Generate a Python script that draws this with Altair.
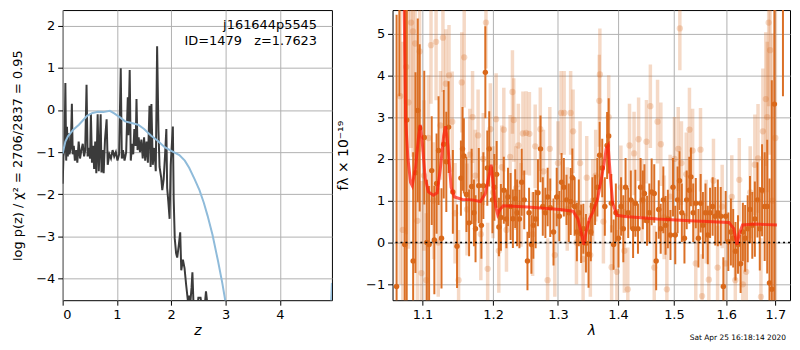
import altair as alt
import pandas as pd

# ---------------- left panel: p(z) ----------------
pz_z = [0.000, 0.015, 0.035, 0.050, 0.065, 0.080, 0.095, 0.110, 0.125, 0.150,
        0.170, 0.185, 0.205, 0.225, 0.250, 0.270, 0.295, 0.320, 0.345, 0.370,
        0.395, 0.415, 0.440, 0.460, 0.480, 0.505, 0.520, 0.540, 0.560, 0.580,
        0.600, 0.620, 0.645, 0.665, 0.685, 0.700, 0.715, 0.735, 0.755, 0.780,
        0.810, 0.830, 0.860, 0.890, 0.920, 0.950, 0.980, 1.010, 1.040, 1.070,
        1.090, 1.110, 1.140, 1.170, 1.200, 1.210, 1.235, 1.255, 1.280, 1.300,
        1.320, 1.345, 1.360, 1.380, 1.400, 1.425, 1.450, 1.475, 1.500, 1.520,
        1.545, 1.570, 1.600, 1.620, 1.635, 1.660, 1.690, 1.715, 1.740, 1.765,
        1.785, 1.815, 1.835, 1.860, 1.885, 1.910, 1.925, 1.945, 1.970, 1.990,
        2.030, 2.045, 2.065, 2.090, 2.110, 2.140, 2.165, 2.185, 2.215, 2.245,
        2.275, 2.305, 2.330, 2.350, 2.375, 2.390, 2.410, 2.480, 2.500, 2.540,
        2.570, 2.620, 2.640, 2.665, 2.690]
pz_logp = [-1.75, -1.10, -0.90, 0.64, -1.20, -0.40, -1.10, -0.55, -1.05, -0.90,
           0.15, -1.05, -0.85, -1.20, -0.95, -1.25, -0.75, -1.15, -0.95, -0.80,
           -1.10, -0.95, 0.60, -1.10, -0.90, -1.15, -0.08, -1.25, -0.85, -1.40,
           -0.75, -1.50, -0.10, -1.45, -0.80, -0.10, -1.48, -0.95, -1.50, -0.70,
           -0.22, -1.30, -1.05, -1.15, -0.95, -1.10, -1.00, -1.20, -1.05, 0.99,
           -1.15, -0.95, -1.20, -1.00, 0.30, -0.60, 0.95, -1.20, -0.80, -1.05,
           -0.45, -0.85, 0.26, -0.95, -0.65, -1.00, -0.70, -1.15, -0.65, -1.20,
           -0.75, -1.25, 0.10, -1.35, 0.14, -1.30, -0.90, -1.45, 1.51, -0.50,
           -1.35, -1.60, -1.90, -1.65, -1.10, -0.45, -1.85, -2.15, -2.58, -1.30,
           -0.39, -2.10, -3.05, -3.40, -3.50, -3.20, -2.90, -3.80, -3.55, -3.75,
           -4.15, -4.50, -4.40, -4.60, -4.20, -3.85, -4.60, -4.70, -4.45, -4.45,
           -4.70, -4.60, -4.30, -4.60, -4.80]

prior_z = [0.00, 0.05, 0.10, 0.20, 0.30, 0.45, 0.55, 0.65, 0.75, 0.87,
           0.95, 1.05, 1.15, 1.27, 1.39, 1.50, 1.63, 1.75, 1.88, 2.00,
           2.15, 2.25, 2.33, 2.43, 2.52, 2.60, 2.67, 2.76, 2.86, 2.94,
           2.99, 3.03, 3.10, 4.90, 4.96]
prior_logp = [-1.03, -0.75, -0.62, -0.46, -0.35, -0.14, -0.07, -0.04, -0.05, -0.02,
              -0.08, -0.17, -0.27, -0.31, -0.35, -0.45, -0.61, -0.73, -0.88, -0.97,
              -1.07, -1.20, -1.37, -1.64, -1.90, -2.20, -2.51, -2.96, -3.57, -4.10,
              -4.48, -4.90, -6.00, -6.00, -4.10]

z_ticks = [0, 1, 2, 3, 4]
logp_ticks = [-4, -3, -2, -1, 0, 1, 2]
label_line1 = "j161644p5545"
label_line2 = "ID=1479\u00a0\u00a0\u00a0z=1.7623"

# ---------------- right panel: spectrum ----------------
dark_lam = [1.0653, 1.0690, 1.0761, 1.0787, 1.0873, 1.0904, 1.0935, 1.0961, 1.1023, 1.1058,
            1.1089, 1.1125, 1.1161, 1.1192, 1.1219, 1.1260, 1.1291, 1.1327, 1.1359, 1.1419,
            1.1478, 1.1533, 1.1556, 1.1575, 1.1612, 1.1650, 1.1687, 1.1720, 1.1743, 1.1790,
            1.1828, 1.1857, 1.1886, 1.1915, 1.1943, 1.1991, 1.2019, 1.2053, 1.2087, 1.2116,
            1.2160, 1.2199, 1.2223, 1.2262, 1.2297, 1.2332, 1.2361, 1.2396, 1.2431, 1.2470,
            1.2520, 1.2545, 1.2581, 1.2611, 1.2647, 1.2683, 1.2723, 1.2759, 1.2800, 1.2836,
            1.2877, 1.2929, 1.2980, 1.3022, 1.3058, 1.3095, 1.3138, 1.3175, 1.3206, 1.3233,
            1.3270, 1.3307, 1.3339, 1.3377, 1.3414, 1.3457, 1.3500, 1.3538, 1.3565, 1.3609,
            1.3648, 1.3686, 1.3730, 1.3774, 1.3813, 1.3840, 1.3885, 1.3924, 1.3963, 1.4008,
            1.4053, 1.4092, 1.4131, 1.4177, 1.4223, 1.4263, 1.4303, 1.4349, 1.4395, 1.4435,
            1.4464, 1.4511, 1.4552, 1.4593, 1.4640, 1.4675, 1.4722, 1.4757, 1.4805, 1.4846,
            1.4888, 1.4936, 1.4983, 1.5025, 1.5068, 1.5104, 1.5147, 1.5196, 1.5238, 1.5287,
            1.5318, 1.5361, 1.5410, 1.5460, 1.5503, 1.5546, 1.5596, 1.5640, 1.5684, 1.5734,
            1.5785, 1.5835, 1.5892, 1.5943, 1.5989, 1.6041, 1.6092, 1.6138, 1.6183, 1.6234,
            1.6286, 1.6332, 1.6378, 1.6430, 1.6476, 1.6523, 1.6575, 1.6629, 1.6676, 1.6723,
            1.6777, 1.6830, 1.6877, 1.6925, 1.6980, 1.7160]
dark_flux = [-1.05, 6.50, -0.05, 2.93, -0.44, 1.67, 3.16, 2.74, 2.51, 0.00,
             -0.05, 1.72, 0.06, 1.41, 2.20, 0.10, 2.35, 1.93, 2.76, 1.21,
             -0.09, 1.54, 2.24, 2.07, 1.15, 0.47, 1.34, 0.71, 0.33, 1.36,
             0.41, 1.36, 4.07, 1.78, 2.24, 1.02, 1.32, 1.63, 0.37, 0.60,
             1.25, 0.56, 1.09, 0.86, 0.57, 1.05, 0.71, 0.56, 1.44, 1.02,
             -0.44, 0.71, -0.05, 0.41, 0.56, 1.19, 2.24, 0.86, 0.71, 1.09,
             0.83, 0.25, 1.09, 0.63, 1.44, 1.32, 1.02, 0.71, 0.98, 1.55,
             0.86, 0.25, 0.71, 0.21, 0.33, -0.02, -0.28, 0.25, 0.86, 1.02,
             1.32, 2.09, 1.78, 0.86, 2.32, 2.55, 0.94, -0.05, 0.71, 0.10,
             0.86, 0.33, 1.32, 0.71, 1.02, 0.33, 0.94, 0.33, 1.32, 1.02,
             1.17, 0.52, 0.71, 1.21, 1.17, -0.44, 0.79, 0.33, 1.02, 0.41,
             0.56, 0.18, 1.32, 0.18, 1.02, 1.48, 0.71, 0.10, 1.02, 1.25,
             1.57, 0.71, 0.94, 0.10, 0.94, 0.41, 0.71, 0.18, 0.71, 0.86,
             0.63, 0.71, 0.63, -1.05, 0.63, 0.02, 0.25, 0.10, -0.21, -0.05,
             -0.51, 0.25, 0.10, 0.33, 0.79, 0.41, 0.56, 1.02, 0.33, 1.25,
             0.86, 0.86, -0.97, -1.12, 3.31, 6.50]
dark_err = [6.5, 3.0, 6.0, 6.0, 2.6, 2.4, 2.2, 2.0, 1.6, 1.5,
            1.4, 1.3, 1.3, 1.2, 1.3, 1.2, 1.3, 1.2, 1.1, 1.0,
            1.0, 0.9, 1.0, 0.9, 0.9, 0.8, 0.9, 0.8, 0.8, 0.9,
            0.8, 0.8, 1.1, 0.9, 0.9, 0.8, 0.8, 0.8, 0.7, 0.8,
            0.8, 0.7, 0.7, 0.8, 0.7, 0.7, 0.8, 0.7, 0.8, 0.7,
            0.7, 0.6, 0.7, 0.8, 0.7, 0.8, 0.8, 0.7, 0.6, 0.7,
            0.7, 0.8, 0.7, 0.6, 0.7, 0.7, 0.6, 0.7, 0.8, 0.7,
            0.7, 0.7, 0.8, 0.7, 0.6, 0.7, 0.8, 0.7, 0.7, 0.6,
            0.7, 0.8, 0.7, 0.7, 0.8, 0.9, 0.7, 0.6, 0.7, 0.7,
            0.7, 0.8, 0.7, 0.6, 0.7, 0.7, 0.8, 0.6, 0.7, 0.7,
            0.7, 0.6, 0.7, 0.8, 0.7, 0.7, 0.7, 0.6, 0.8, 0.7,
            0.7, 0.6, 0.7, 0.7, 0.8, 0.7, 0.7, 0.6, 0.7, 0.8,
            0.7, 0.7, 0.6, 0.7, 0.7, 0.8, 0.7, 0.7, 0.6, 0.7,
            0.7, 0.8, 0.7, 0.7, 0.6, 0.7, 0.8, 0.7, 0.7, 0.7,
            0.7, 0.7, 0.8, 0.8, 0.8, 0.8, 0.9, 0.9, 1.0, 1.1,
            1.3, 1.6, 2.5, 5.0, 6.0, 3.0]

light_lam = [1.0700, 1.0735, 1.0780, 1.0810, 1.0845, 1.0870, 1.0900, 1.0930, 1.0960, 1.0985,
             1.1020, 1.1050, 1.1080, 1.1115, 1.1150, 1.1185, 1.1215, 1.1245, 1.1280, 1.1320,
             1.1365, 1.1410, 1.1450, 1.1500, 1.1545, 1.1580, 1.1620, 1.1660, 1.1700, 1.1740,
             1.1780, 1.1820, 1.1855, 1.1895, 1.1920, 1.1960, 1.2000, 1.2045, 1.2085, 1.2130,
             1.2160, 1.2200, 1.2255, 1.2290, 1.2310, 1.2345, 1.2380, 1.2420, 1.2450, 1.2500,
             1.2550, 1.2600, 1.2640, 1.2720, 1.2770, 1.2835, 1.2870, 1.2950, 1.3000, 1.3050,
             1.3100, 1.3150, 1.3205, 1.3245, 1.3300, 1.3360, 1.3410, 1.3470, 1.3530, 1.3570,
             1.3620, 1.3680, 1.3690, 1.3750, 1.3840, 1.3890, 1.3980, 1.4050, 1.4110, 1.4170,
             1.4200, 1.4280, 1.4360, 1.4420, 1.4500, 1.4570, 1.4640, 1.4700, 1.4760, 1.4820,
             1.4870, 1.4930, 1.5010, 1.5080, 1.5110, 1.5140, 1.5230, 1.5290, 1.5350, 1.5410,
             1.5500, 1.5530, 1.5610, 1.5660, 1.5750, 1.5830, 1.5920, 1.5990, 1.6110, 1.6180,
             1.6260, 1.6330, 1.6400, 1.6480, 1.6575, 1.6640, 1.6700, 1.6740, 1.6800, 1.6830,
             1.6860, 1.6890, 1.6940, 1.7000]
light_flux = [3.50, 0.30, 4.20, 3.35, 5.26, 5.05, 4.76, 0.52, 4.57, -0.73,
              1.60, -0.90, 2.50, 4.72, 1.00, 4.80, 0.00, 2.80, 4.90, 3.80,
              4.00, 2.89, 0.70, -0.90, 3.83, 4.43, 0.79, 2.10, 3.00, 1.60,
              2.56, 0.20, 2.00, 5.26, -0.63, 2.71, 1.20, 2.95, -0.20, 1.80,
              2.70, 0.30, 2.05, 3.60, 2.93, 1.30, 2.32, 0.90, 2.61, 2.62,
              2.60, 0.20, 2.30, 2.71, 1.70, -0.90, 2.24, -0.30, 1.90, 3.10,
              3.10, 0.80, 3.10, 2.66, 0.00, 1.90, -0.40, 1.55, -0.30, 1.00,
              1.60, 3.39, 4.02, 0.50, 3.00, -0.59, -0.70, 1.32, -0.20, -1.12,
              2.32, 2.13, 2.47, 1.00, 2.41, 3.26, -0.60, 2.89, 2.35, 0.60,
              -1.12, 1.10, 2.00, 2.24, 5.12, 1.90, 1.63, 2.70, 2.20, -0.50,
              2.22, -1.28, 0.50, -0.89, 1.48, -0.60, 0.86, -0.50, 1.09, -0.90,
              1.50, -1.00, -0.70, 1.20, 1.86, 2.01, -1.30, 2.66, 3.43, 3.00,
              5.26, 4.60, 1.00, 2.50]
light_err = [4.5, 4.5, 4.0, 3.5, 3.0, 3.0, 2.8, 2.6, 2.4, 2.2,
             1.8, 1.6, 1.5, 1.4, 1.4, 1.4, 1.3, 1.3, 1.3, 1.3,
             1.2, 1.2, 1.2, 1.2, 1.2, 1.2, 1.1, 1.1, 1.1, 1.1,
             1.1, 1.1, 1.1, 1.1, 1.1, 1.1, 1.1, 1.1, 1.0, 1.0,
             1.0, 1.0, 1.0, 1.0, 1.0, 1.0, 1.0, 1.0, 1.0, 1.0,
             1.0, 1.0, 1.0, 1.0, 1.0, 1.0, 1.0, 1.0, 1.0, 1.0,
             1.0, 1.0, 1.0, 1.0, 1.0, 1.0, 1.0, 1.0, 1.0, 1.0,
             1.1, 1.1, 1.1, 1.0, 1.0, 1.0, 1.0, 1.0, 1.0, 1.0,
             1.0, 1.0, 1.0, 1.0, 1.0, 1.0, 1.0, 1.0, 1.0, 1.0,
             1.0, 1.0, 1.0, 1.0, 1.0, 1.0, 1.0, 1.0, 1.0, 1.0,
             1.0, 1.0, 1.0, 1.0, 1.0, 1.0, 1.0, 1.0, 1.0, 1.0,
             1.0, 1.0, 1.0, 1.1, 1.2, 1.3, 1.4, 1.5, 1.6, 1.8,
             2.0, 2.5, 4.0, 4.5]

model_lam = [1.0750, 1.0773, 1.0803, 1.0838, 1.0860, 1.0904, 1.0947, 1.0969, 1.0996, 1.1035,
             1.1080, 1.1146, 1.1200, 1.1245, 1.1290, 1.1317, 1.1349, 1.1395, 1.1441, 1.1556,
             1.1696, 1.1814, 1.1886, 1.1934, 1.1972, 1.2006, 1.2039, 1.2068, 1.2102, 1.2151,
             1.2520, 1.3034, 1.3245, 1.3325, 1.3378, 1.3421, 1.3459, 1.3513, 1.3567, 1.3649,
             1.3704, 1.3759, 1.3797, 1.3831, 1.3870, 1.3909, 1.3981, 1.4122, 1.4698, 1.5299,
             1.6053, 1.6149, 1.6214, 1.6260, 1.6325, 1.6576, 1.7033]
model_flux = [6.00, 2.93, 2.01, 1.44, 1.36, 1.78, 2.55, 2.81, 2.39, 1.55,
              1.21, 1.13, 1.19, 1.78, 2.55, 2.78, 2.32, 1.32, 1.09, 1.03,
              1.02, 0.98, 1.17, 1.55, 1.86, 1.32, 0.86, 0.67, 0.79, 0.88,
              0.85, 0.79, 0.75, 0.56, 0.25, -0.05, 0.25, 0.56, 0.71, 1.02,
              1.44, 1.86, 2.24, 2.32, 1.55, 0.94, 0.65, 0.62, 0.56, 0.52,
              0.48, 0.33, -0.05, 0.21, 0.42, 0.44, 0.42]

lam_ticks = [1.1, 1.2, 1.3, 1.4, 1.5, 1.6, 1.7]
flux_ticks = [-1, 0, 1, 2, 3, 4, 5]
timestamp = "Sat Apr 25 16:18:14 2020"

ORANGE = "#d9681a"
FONT = "DejaVu Sans"
H = 292

# ---------------- build left chart ----------------
pz_df = pd.DataFrame({"z": pz_z, "logp": pz_logp})
prior_df = pd.DataFrame({"z": prior_z, "logp": prior_logp})

zx = alt.X("z:Q", scale=alt.Scale(domain=[0, 4.96], nice=False, zero=False),
           axis=alt.Axis(values=z_ticks, format="d", title="z", titleFontStyle="italic"))
zy = alt.Y("logp:Q", scale=alt.Scale(domain=[-4.51, 2.37], nice=False, zero=False),
           axis=alt.Axis(values=logp_ticks, format="d", titlePadding=11, titleFontSize=13,
                         title="log p(z) / χ² = 2706/2837 = 0.95"))

pz_line = alt.Chart(pz_df).mark_line(color="#3b3b3b", strokeWidth=2, clip=True).encode(x=zx, y=zy)
prior_line = alt.Chart(prior_df).mark_line(color="#8fbbda", strokeWidth=2, clip=True).encode(x=zx, y=zy)

lab1 = alt.Chart(pd.DataFrame({"t": [label_line1]})).mark_text(
    align="right", baseline="middle", fontSize=13, font=FONT, color="black").encode(
    x=alt.value(256), y=alt.value(15), text="t:N")
lab2 = alt.Chart(pd.DataFrame({"t": [label_line2]})).mark_text(
    align="right", baseline="middle", fontSize=13, font=FONT, color="black").encode(
    x=alt.value(256), y=alt.value(31), text="t:N")

left = alt.layer(pz_line, prior_line, lab1, lab2).properties(width=271, height=H)

# ---------------- build right chart ----------------
dark_df = pd.DataFrame({"lam": dark_lam, "flux": dark_flux, "err": dark_err})
dark_df["lo"] = dark_df["flux"] - dark_df["err"]
dark_df["hi"] = dark_df["flux"] + dark_df["err"]
light_df = pd.DataFrame({"lam": light_lam, "flux": light_flux, "err": light_err})
light_df["lo"] = light_df["flux"] - light_df["err"]
light_df["hi"] = light_df["flux"] + light_df["err"]
model_df = pd.DataFrame({"lam": model_lam, "flux": model_flux})

lx = alt.X("lam:Q", scale=alt.Scale(type="log", domain=[1.060, 1.731], nice=False, zero=False),
           axis=alt.Axis(values=lam_ticks, format=".1f", title="λ", titleFontStyle="italic"))
fscale = alt.Scale(domain=[-1.38, 5.56], nice=False, zero=False)
fy = alt.Y("flux:Q", scale=fscale,
           axis=alt.Axis(values=flux_ticks, format="d", titlePadding=15, title="fλ × 10⁻¹⁹"))

light_bars = alt.Chart(light_df).mark_rule(color=ORANGE, opacity=0.25, strokeWidth=3.5, clip=True).encode(
    x=lx, y=alt.Y("lo:Q", scale=fscale), y2="hi:Q")
light_pts = alt.Chart(light_df).mark_circle(color=ORANGE, opacity=0.25, size=40, clip=True).encode(x=lx, y=fy)
dark_bars = alt.Chart(dark_df).mark_rule(color=ORANGE, opacity=0.95, strokeWidth=2, clip=True).encode(
    x=lx, y=alt.Y("lo:Q", scale=fscale), y2="hi:Q")
dark_pts = alt.Chart(dark_df).mark_circle(color=ORANGE, opacity=1, size=30, clip=True).encode(x=lx, y=fy)
zero = alt.Chart(pd.DataFrame({"flux": [0]})).mark_rule(color="black", strokeDash=[2, 3], strokeWidth=1.5).encode(
    y=alt.Y("flux:Q", scale=fscale))
model = alt.Chart(model_df).mark_line(color="#ff1a0a", opacity=0.7, strokeWidth=3, clip=True).encode(x=lx, y=fy)
stamp = alt.Chart(pd.DataFrame({"t": [timestamp]})).mark_text(
    align="right", baseline="middle", fontSize=7.5, font=FONT, color="black").encode(
    x=alt.value(396), y=alt.value(H + 38), text="t:N")

right = alt.layer(light_bars, light_pts, dark_bars, dark_pts, zero, model, stamp).properties(width=400, height=H)

chart = alt.hconcat(left, right, spacing=3).properties(
    padding={"left": 3, "top": 0, "right": 0, "bottom": 0}
).configure_view(stroke="black", strokeWidth=1).configure_axis(
    labelFont=FONT, labelFontSize=13, labelColor="black",
    titleFont=FONT, titleFontSize=14, titleFontWeight="normal", titleColor="black",
    tickColor="black", tickSize=5, tickWidth=1, labelPadding=3,
    domain=False, grid=True, gridColor="#b0b0b0", gridWidth=1,
).configure_axisX(titlePadding=3)

chart.save("out.html", embed_options={"renderer": "svg", "actions": False})
